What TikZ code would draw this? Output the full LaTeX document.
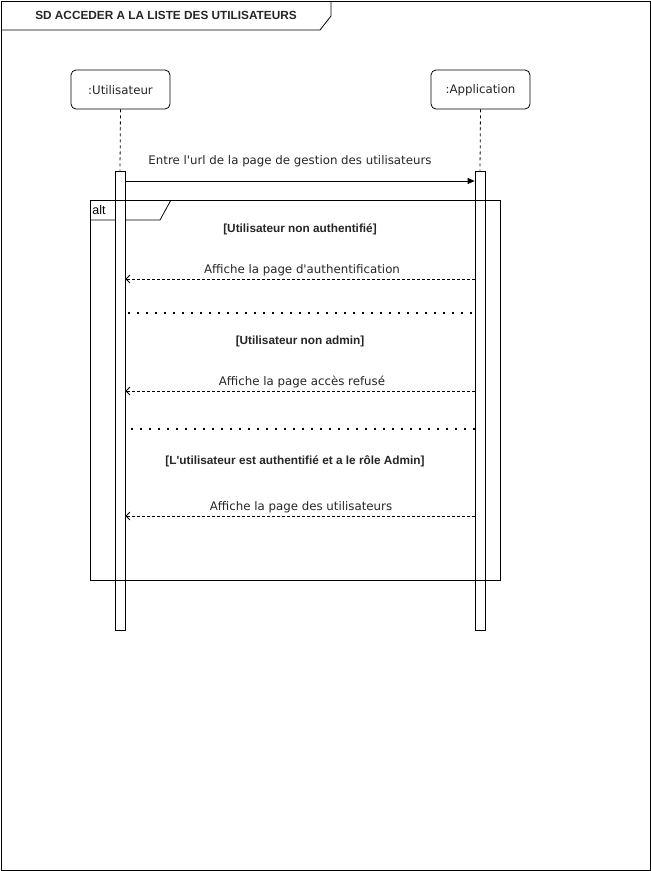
\documentclass[tikz,border=0pt]{standalone}
\usepackage{fontspec}
\setmainfont{DejaVu Sans}[Ligatures=TeXOff]
\newfontfamily\arialfont{Liberation Sans}[Ligatures=TeXOff]
\usetikzlibrary{arrows.meta}
\begin{document}
\begin{tikzpicture}[x=1pt,y=-1pt,
  line width=0.8pt,
  head/.style={draw, rounded corners=5pt, minimum width=99pt, minimum height=39pt, inner sep=0pt},
  headtext/.style={font=\fontsize{11.8}{13}\selectfont, inner sep=0pt, text=black!85},
  actbox/.style={draw, fill=white, minimum width=10pt, inner sep=0pt},
  lifeline/.style={dash pattern=on 3pt off 3pt},
  msglabel/.style={font=\fontsize{11.8}{13}\selectfont, inner sep=0pt, text=black!85},
  guard/.style={font=\arialfont\bfseries\fontsize{11.8}{13}\selectfont, inner sep=0pt, text=black!85},
  callmsg/.style={-{Triangle[length=7pt,width=6pt]}},
  retmsg/.style={dash pattern=on 3pt off 2pt, -{Straight Barb[length=4pt,width=8pt]}},
  sep/.style={line width=1.8pt, dash pattern=on 1.8pt off 7.2pt}
]
\useasboundingbox (0,0) rectangle (651,871);
\fill[white] (0,0) rectangle (651,871);
% outer frame
\draw (1,1) rectangle (650,870);
\draw (1,30) -- (320,30) -- (331,16) -- (331,1);
\node[font=\arialfont\bfseries\fontsize{11.8}{13}\selectfont, inner sep=0pt, text=black!85] (title) at (166,15.5) {SD ACCEDER A LA LISTE DES UTILISATEURS};

% lifeline heads
\node[head] (u) at (120.5,89.5) {};
\node[head] (a) at (480.5,89.5) {};
\node[headtext] (ut) at (120.5,90.5) {:Utilisateur};
\node[headtext] (at) at (480.5,90.5) {:Application};

% alt frame
\draw (90,200) rectangle (500,580);
\draw (90,220) -- (160,220) -- (171,200);
\node[font=\arialfont\fontsize{12.5}{14}\selectfont, inner sep=0pt, anchor=west] (alt) at (92,210) {alt};

% activations
\node[actbox, minimum height=459pt] (ua) at (120,400.5) {};
\node[actbox, minimum height=459pt] (aa) at (480,400.5) {};
\draw[lifeline] (u.south) -- (ua.north);
\draw[lifeline] (a.south) -- (aa.north);
\draw (90,580) -- (500,580);
\draw (90,200) -- (500,200);

% message 1
\coordinate (m1s) at (ua.east |- 0,181);
\coordinate (m1e) at (aa.west |- 0,181);
\draw[callmsg] (m1s) -- (m1e);
\node[msglabel] (l1) at (290,161.5) {Entre l'url de la page de gestion des utilisateurs};

% guard 1
\node[guard] (g1) at (300,229.5) {[Utilisateur non authentifié]};
\coordinate (r1s) at (aa.west |- 0,279);
\coordinate (r1e) at (ua.east |- 0,279);
\draw[retmsg] (r1s) -- (r1e);
\node[msglabel] (l2) at (302,270.5) {Affiche la page d'authentification};

\coordinate (s1a) at (128,313);
\coordinate (s1b) at (476,313);
\draw[sep] (s1a) -- (s1b);

% guard 2
\node[guard] (g2) at (300,341.5) {[Utilisateur non admin]};
\coordinate (r2s) at (aa.west |- 0,391);
\coordinate (r2e) at (ua.east |- 0,391);
\draw[retmsg] (r2s) -- (r2e);
\node[msglabel] (l3) at (302,382.5) {Affiche la page accès refusé};

\coordinate (s2a) at (131,429);
\coordinate (s2b) at (477,429);
\draw[sep] (s2a) -- (s2b);

% guard 3
\node[guard] (g3) at (295,461.5) {[L'utilisateur est authentifié et a le rôle Admin]};
\coordinate (r3s) at (aa.west |- 0,516);
\coordinate (r3e) at (ua.east |- 0,516);
\draw[retmsg] (r3s) -- (r3e);
\node[msglabel] (l4) at (301,507.5) {Affiche la page des utilisateurs};
\end{tikzpicture}
\end{document}
